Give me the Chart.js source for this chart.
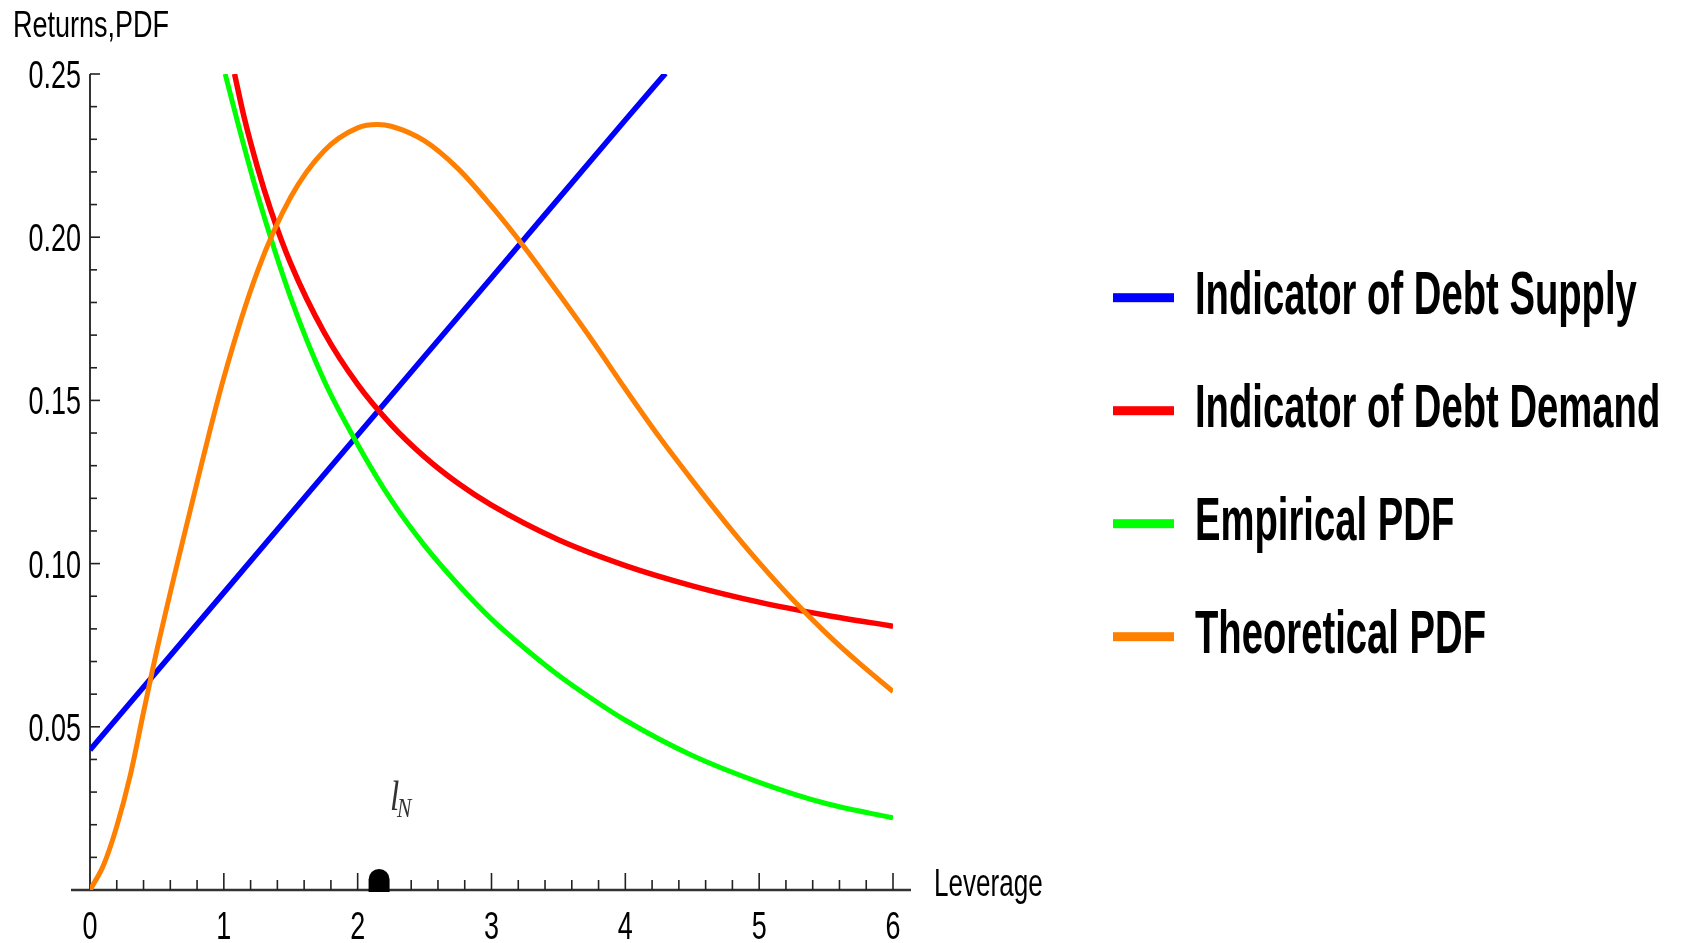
<!DOCTYPE html>
<html lang="en">
<head>
<meta charset="UTF-8">
<title>Returns and PDF against leverage</title>
<script src="https://cdn.jsdelivr.net/npm/chart.js"></script>
<style>
  html, body { margin: 0; padding: 0; background: #fff; }
  canvas { display: block; }
</style>
</head>
<body>
<canvas id="leverageChart" width="1683" height="943"></canvas>
<script>
// values
const seriesNames = ['Indicator of Debt Supply', 'Indicator of Debt Demand', 'Empirical PDF', 'Theoretical PDF'];
const seriesColors = ['#0000ff', '#ff0000', '#00ff00', '#ff7f00'];

const supplyX = [0, 1, 2, 3, 4, 4.3];
const supplyY = [0.0429, 0.0911, 0.1394, 0.1876, 0.2359, 0.2502];

const demandX = [1.08, 1.15, 1.25, 1.35, 1.5, 1.75, 2, 2.25, 2.5, 2.75, 3, 3.5, 4, 4.5, 5, 5.5, 6];
const demandY = [0.250, 0.237, 0.2216, 0.2084, 0.1919, 0.1708, 0.1549, 0.1426, 0.1327, 0.1246, 0.1179, 0.1073, 0.0994, 0.0932, 0.0882, 0.0842, 0.0808];

const empiricalX = [1.01, 1.1, 1.25, 1.5, 1.75, 2, 2.25, 2.5, 2.75, 3, 3.25, 3.5, 3.75, 4, 4.5, 5, 5.5, 6];
const empiricalY = [0.250, 0.2357, 0.2133, 0.1814, 0.156, 0.1365, 0.1195, 0.1055, 0.0936, 0.083, 0.074, 0.0658, 0.0586, 0.052, 0.0412, 0.033, 0.0265, 0.0221];

const theoreticalX = [0, 0.1, 0.2, 0.3, 0.4, 0.5, 0.75, 1, 1.25, 1.5, 1.75, 2, 2.15, 2.25, 2.5, 2.75, 3, 3.25, 3.5, 3.75, 4, 4.25, 4.5, 4.75, 5, 5.25, 5.5, 5.75, 6];
const theoreticalY = [0, 0.0075, 0.0195, 0.035, 0.0545, 0.0735, 0.1165, 0.157, 0.1894, 0.2123, 0.2265, 0.2335, 0.2345, 0.234, 0.2295, 0.221, 0.2095, 0.1967, 0.1828, 0.1685, 0.1535, 0.139, 0.1255, 0.1125, 0.1003, 0.089, 0.0787, 0.0694, 0.0608];

const xTicks = [0, 1, 2, 3, 4, 5, 6];
const xTickLabels = ['0', '1', '2', '3', '4', '5', '6'];
const yTicks = [0.05, 0.10, 0.15, 0.20, 0.25];
const yTickLabels = ['0.05', '0.10', '0.15', '0.20', '0.25'];

const lN = 2.16;          // marked leverage l_N on the axis
const lNLabelY = 0.0245;  // height of its label

function pts(xs, ys) {
  return xs.map((x, i) => ({ x: x, y: ys[i] }));
}

// squeezed text, the original is horizontally compressed
function narrowText(ctx, txt, x, y, font, sx, align) {
  ctx.save();
  ctx.font = font;
  ctx.translate(x, y);
  ctx.scale(sx, 1);
  ctx.textAlign = align || 'left';
  ctx.textBaseline = 'alphabetic';
  ctx.fillText(txt, 0, 0);
  ctx.restore();
}

const tickFont = '38px "Liberation Sans", Arial, sans-serif';

const axesPlugin = {
  id: 'mmaAxes',
  beforeDatasetsDraw(chart) {
    const ctx = chart.ctx;
    const xs = chart.scales.x, ys = chart.scales.y;
    const x0 = xs.getPixelForValue(0), y0 = ys.getPixelForValue(0);
    ctx.save();
    // axis lines
    ctx.strokeStyle = '#333';
    ctx.lineWidth = 2.5;
    ctx.beginPath();
    ctx.moveTo(x0 - 19, y0);
    ctx.lineTo(xs.getPixelForValue(6) + 18, y0);
    ctx.stroke();
    ctx.lineWidth = 2;
    ctx.beginPath();
    ctx.moveTo(x0, y0);
    ctx.lineTo(x0, ys.getPixelForValue(0.25));
    ctx.stroke();

    // tick marks, minor and major, from the scales' own ticks
    ctx.strokeStyle = '#222';
    ctx.lineWidth = 1.6;
    xs.ticks.forEach(t => {
      if (t.value <= 1e-9) return;
      const major = Math.abs(t.value - Math.round(t.value)) < 1e-6;
      const px = xs.getPixelForValue(t.value);
      ctx.beginPath();
      ctx.moveTo(px, y0);
      ctx.lineTo(px, y0 - (major ? 17 : 10));
      ctx.stroke();
    });
    ys.ticks.forEach(t => {
      if (t.value <= 1e-9) return;
      const major = Math.abs(t.value * 20 - Math.round(t.value * 20)) < 1e-6;
      const py = ys.getPixelForValue(t.value);
      ctx.beginPath();
      ctx.moveTo(x0, py);
      ctx.lineTo(x0 + (major ? 10 : 7), py);
      ctx.stroke();
    });

    // tick labels
    ctx.fillStyle = '#000';
    xTicks.forEach((v, i) => {
      narrowText(ctx, xTickLabels[i], xs.getPixelForValue(v), y0 + 49, tickFont, 0.71, 'center');
    });
    yTicks.forEach((v, i) => {
      narrowText(ctx, yTickLabels[i], x0 - 9, ys.getPixelForValue(v) + 14, tickFont, 0.71, 'right');
    });

    // axis titles
    narrowText(ctx, 'Returns,PDF', 13, 37, '37px "Liberation Sans", Arial, sans-serif', 0.73, 'left');
    narrowText(ctx, 'Leverage', xs.getPixelForValue(6) + 41, y0 + 6, '39.5px "Liberation Sans", Arial, sans-serif', 0.66, 'left');
    ctx.restore();
  },
  afterDatasetsDraw(chart) {
    const ctx = chart.ctx;
    const xs = chart.scales.x, ys = chart.scales.y;
    const y0 = ys.getPixelForValue(0);
    const cx = xs.getPixelForValue(lN);
    ctx.save();
    // l_N marker: a small dome sitting on the axis
    const r = 10.5, h = 21;
    ctx.fillStyle = '#000';
    ctx.beginPath();
    ctx.moveTo(cx - r, y0 + 2);
    ctx.lineTo(cx - r, y0 - h + r);
    ctx.arc(cx, y0 - h + r, r, Math.PI, 0);
    ctx.lineTo(cx + r, y0 + 2);
    ctx.closePath();
    ctx.fill();

    // its label
    ctx.fillStyle = '#333';
    const ly = ys.getPixelForValue(lNLabelY);
    narrowText(ctx, 'l', cx + 11, ly, 'italic 42px "Liberation Serif", "Times New Roman", serif', 0.8, 'left');
    narrowText(ctx, 'N', cx + 18, ly + 7, 'italic 27px "Liberation Serif", "Times New Roman", serif', 0.8, 'left');

    // legend on the right
    seriesNames.forEach((name, i) => {
      const yc = 297.7 + i * 113;
      ctx.fillStyle = seriesColors[i];
      ctx.fillRect(1113, yc - 4.5, 61, 9);
      ctx.fillStyle = '#000';
      narrowText(ctx, name, 1195, yc + 16, 'bold 60.5px "Liberation Sans", Arial, sans-serif', 0.632, 'left');
    });
    ctx.restore();
  }
};

function lineSet(label, data, color, width, order) {
  return {
    label: label,
    data: data,
    borderColor: color,
    backgroundColor: color,
    borderWidth: width,
    borderCapStyle: 'butt',
    pointRadius: 0,
    fill: false,
    cubicInterpolationMode: 'monotone',
    order: order
  };
}

new Chart(document.getElementById('leverageChart').getContext('2d'), {
  type: 'line',
  data: {
    datasets: [
      lineSet(seriesNames[0], pts(supplyX, supplyY), seriesColors[0], 5.5, 4),
      lineSet(seriesNames[1], pts(demandX, demandY), seriesColors[1], 5.5, 3),
      lineSet(seriesNames[2], pts(empiricalX, empiricalY), seriesColors[2], 5, 2),
      lineSet(seriesNames[3], pts(theoreticalX, theoreticalY), seriesColors[3], 5, 1)
    ]
  },
  options: {
    responsive: false,
    animation: false,
    devicePixelRatio: 1,
    layout: { padding: { left: 90, top: 74, right: 1683 - 893, bottom: 943 - 890 } },
    plugins: {
      legend: { display: false },
      tooltip: { enabled: false }
    },
    scales: {
      x: { type: 'linear', display: false, min: 0, max: 6, ticks: { stepSize: 0.2 } },
      y: { type: 'linear', display: false, min: 0, max: 0.25, ticks: { stepSize: 0.01 } }
    }
  },
  plugins: [axesPlugin]
});
</script>
</body>
</html>
